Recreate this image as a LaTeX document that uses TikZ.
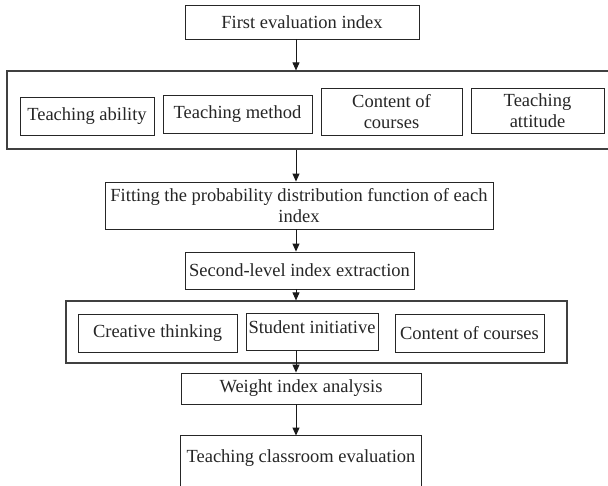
\documentclass[tikz,border=0pt]{standalone}
\usepackage{fontspec}
\setmainfont{Liberation Serif}
\usetikzlibrary{arrows.meta}
\begin{document}
\begin{tikzpicture}[x=1pt,y=-1pt,
  box/.style={draw=black!85, line width=0.9pt, inner sep=0pt, align=center,
    font=\fontsize{18.5}{21.5}\selectfont, text=black!85},
  frame/.style={draw=black!75, line width=1.2pt, inner sep=0pt},
  arr/.style={draw=black!90, line width=0.9pt, -{Triangle[length=8pt,width=7pt]}}]
\useasboundingbox (0,0) rectangle (608,485);
\clip (0,0) rectangle (608,485);
\fill[white] (0,0) rectangle (608,485);
\coordinate (col) at (296,0);
% top
\node[box, minimum width=234, minimum height=34] (first) at (302,22) {First evaluation index};
% first container
\node[frame, minimum width=612, minimum height=78] (cont1) at (313,110) {};
\node[box, minimum width=134, minimum height=38] (ability) at (87,116) {Teaching ability};
\node[box, minimum width=149, minimum height=38] (method) at (237.5,114) {Teaching method};
\node[box, minimum width=141, minimum height=47] (content1) at (391.5,111.5) {Content of\\courses};
\node[box, minimum width=133, minimum height=45] (attitude) at (537.5,110.5) {Teaching\\attitude};
% middle
\node[box, minimum width=388, minimum height=47] (fit) at (299,205.5) {Fitting the probability distribution function of each\\index};
\node[box, minimum width=229, minimum height=37] (second) at (299.5,270.5) {Second-level index extraction};
% second container
\node[frame, minimum width=501, minimum height=62] (cont2) at (316.5,332) {};
\node[box, minimum width=159, minimum height=38] (creative) at (157.5,333) {Creative thinking};
\node[box, minimum width=132, minimum height=37, text depth=9pt] (student) at (312,331.5) {Student initiative};
\node[box, minimum width=149, minimum height=38] (content2) at (469.5,333) {Content of courses};
% bottom
\node[box, minimum width=240, minimum height=31] (weight) at (301,388.5) {Weight index analysis};
\node[box, draw=none, minimum width=240, minimum height=44] (eval) at (301,458) {Teaching classroom evaluation};
\draw[draw=black!85, line width=0.9pt] ([yshift=-15pt]eval.south west) -- (eval.north west) -- (eval.north east) -- ([yshift=-15pt]eval.south east);
% connectors
\draw[arr] (first.south -| col) -- (cont1.north -| col);
\draw[arr] (cont1.south -| col) -- (fit.north -| col);
\draw[arr] (fit.south -| col) -- (second.north -| col);
\draw[arr] (second.south -| col) -- (cont2.north -| col);
\draw[arr] (student.south -| col) -- (weight.north -| col);
\draw[arr] (weight.south -| col) -- (eval.north -| col);
\end{tikzpicture}
\end{document}
